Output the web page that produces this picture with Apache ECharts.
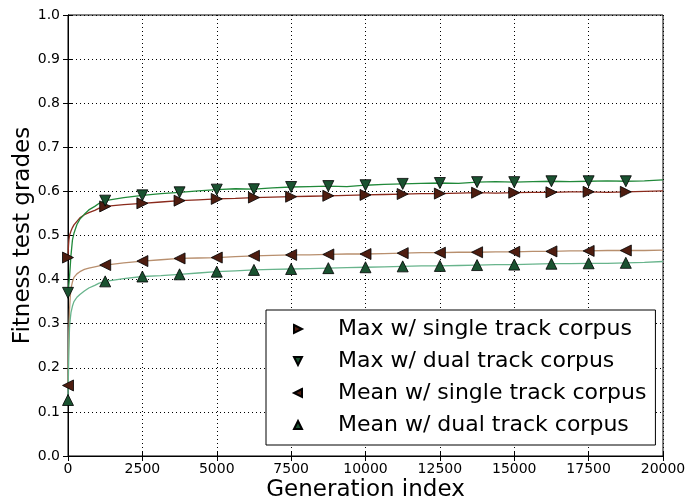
<!DOCTYPE html>
<html>
<head>
<meta charset="utf-8">
<script src="https://cdn.jsdelivr.net/npm/echarts@6/dist/echarts.min.js"></script>
<style>html,body{margin:0;padding:0;background:#fff}#c{width:689px;height:504px}</style>
</head>
<body>
<div id="c"></div>
<script>
const gens = [0, 15, 30, 50, 75, 100, 150, 200, 300, 400, 550, 700, 900, 1050, 1250, 1875, 2500, 3125, 3750, 4375, 5000, 5625, 6250, 6875, 7500, 8125, 8750, 9375, 10000, 10625, 11250, 11875, 12500, 13125, 13750, 14375, 15000, 15625, 16250, 16875, 17500, 18125, 18750, 19375, 20000];
const maxSingle = [0.45,0.475,0.49,0.50,0.505, 0.51,0.518,0.524,0.532,0.540, 0.547,0.552,0.557,0.562,0.566, 0.570,0.573,0.576,0.579,0.581, 0.583,0.584,0.586,0.587,0.588, 0.589,0.590,0.591,0.592,0.593, 0.594,0.595,0.595,0.596,0.597, 0.596,0.597,0.598,0.598,0.599, 0.599,0.598,0.599,0.600,0.601];
const maxDual = [0.37,0.38,0.39,0.405,0.43, 0.455,0.49,0.505,0.525,0.537, 0.548,0.558,0.566,0.573,0.579, 0.586,0.591,0.595,0.598,0.601, 0.604,0.606,0.605,0.608,0.610, 0.611,0.612,0.611,0.614,0.616, 0.617,0.618,0.619,0.618,0.621, 0.622,0.621,0.622,0.623,0.622, 0.623,0.624,0.623,0.624,0.626];
const meanSingle = [0.16,0.24,0.29,0.33,0.36, 0.38,0.395,0.405,0.413,0.418, 0.423,0.426,0.429,0.431,0.433, 0.438,0.442,0.445,0.448,0.449, 0.450,0.452,0.454,0.455,0.456, 0.456,0.457,0.458,0.458,0.459, 0.460,0.461,0.461,0.462,0.462, 0.463,0.463,0.464,0.464,0.465, 0.465,0.466,0.466,0.466,0.467];
const meanDual = [0.127,0.19,0.24,0.29,0.31, 0.325,0.34,0.35,0.36,0.366, 0.374,0.381,0.387,0.392,0.396, 0.402,0.407,0.409,0.412,0.415, 0.418,0.420,0.422,0.423,0.424, 0.425,0.426,0.427,0.428,0.429, 0.430,0.431,0.431,0.432,0.433, 0.434,0.434,0.435,0.436,0.436, 0.437,0.437,0.438,0.439,0.441];
const markerStep = 1250;
const seriesNames = ['Max w/ single track corpus', 'Max w/ dual track corpus', 'Mean w/ single track corpus', 'Mean w/ dual track corpus'];

const RIGHT = 'path://M0,0 L10,5 L0,10 Z';
const DOWN = 'path://M0,0 L10,0 L5,10 Z';
const LEFT = 'path://M10,0 L0,5 L10,10 Z';
const UP = 'path://M5,0 L10,10 L0,10 Z';

const defs = [
  {name: seriesNames[0], vals: maxSingle, line: '#8a2a1c', mk: '#4e1d10', sym: RIGHT},
  {name: seriesNames[1], vals: maxDual, line: '#21893a', mk: '#1a5230', sym: DOWN},
  {name: seriesNames[2], vals: meanSingle, line: '#b88f6e', mk: '#4e1d10', sym: LEFT},
  {name: seriesNames[3], vals: meanDual, line: '#68b48c', mk: '#1a5230', sym: UP}
];

const series = [];
defs.forEach(d => {
  series.push({
    type: 'line', name: d.name + ' line', data: gens.map((g, i) => [g, d.vals[i]]),
    showSymbol: false, symbol: 'none', lineStyle: {color: d.line, width: 1.3}, itemStyle: {color: d.line},
    silent: true, z: 2
  });
});
defs.forEach(d => {
  series.push({
    type: 'scatter', name: d.name,
    data: gens.map((g, i) => [g, d.vals[i]]).filter(p => p[0] % markerStep === 0 && p[0] < 20000),
    symbol: d.sym, symbolSize: 11, symbolKeepAspect: true,
    itemStyle: {color: d.mk, borderColor: '#000', borderWidth: 0.8, opacity: 1}, z: 3
  });
});

const font = 'DejaVu Sans';
const chart = echarts.init(document.getElementById('c'), null, {renderer: 'canvas'});
chart.setOption({
  animation: false,
  backgroundColor: '#fff',
  grid: {left: 68, top: 15, right: 26, bottom: 48, containLabel: false, outerBoundsMode: 'none',
         show: true, borderColor: '#000', borderWidth: 1, backgroundColor: 'transparent'},
  xAxis: [{
    type: 'value', min: 0, max: 20000, interval: 2500, position: 'bottom',
    name: 'Generation index', nameLocation: 'middle', nameGap: 23, nameMoveOverlap: false,
    nameTextStyle: {fontFamily: font, fontSize: 23, color: '#000', verticalAlign: 'top'},
    axisLine: {lineStyle: {color: '#000'}},
    axisTick: {inside: true, length: 5, lineStyle: {color: '#000'}},
    axisLabel: {fontFamily: font, fontSize: 14, color: '#000', margin: 6, formatter: v => String(v), hideOverlap: false},
    splitLine: {show: true, lineStyle: {color: '#000', type: [1, 3], width: 1}}
  }, {
    type: 'value', min: 0, max: 20000, interval: 2500, position: 'top',
    axisLine: {lineStyle: {color: '#000'}},
    axisTick: {inside: true, length: 5, lineStyle: {color: '#000'}},
    axisLabel: {show: false}, splitLine: {show: false}
  }],
  yAxis: [{
    type: 'value', min: 0, max: 1, interval: 0.1, position: 'left',
    name: 'Fitness test grades', nameLocation: 'middle', nameGap: 33, nameMoveOverlap: false,
    nameTextStyle: {fontFamily: font, fontSize: 23, color: '#000'},
    axisLine: {show: true, lineStyle: {color: '#000'}},
    axisTick: {show: true, inside: true, length: 5, lineStyle: {color: '#000'}},
    axisLabel: {fontFamily: font, fontSize: 14, color: '#000', margin: 8, formatter: v => v.toFixed(1)},
    splitLine: {show: true, lineStyle: {color: '#000', type: [1, 3], width: 1}}
  }, {
    type: 'value', min: 0, max: 1, interval: 0.1, position: 'right',
    axisLine: {show: true, lineStyle: {color: '#000'}},
    axisTick: {show: true, inside: true, length: 5, lineStyle: {color: '#000'}},
    axisLabel: {show: false}, splitLine: {show: false}
  }],
  legend: {
    orient: 'vertical', left: 266, top: 310,
    data: defs.map(d => ({name: d.name, icon: d.sym})),
    itemWidth: 8, itemHeight: 8, itemGap: 8,
    padding: [7, 9, 8, 27],
    backgroundColor: '#fff', borderColor: '#000', borderWidth: 1, borderRadius: 0,
    textStyle: {fontFamily: font, fontSize: 22, color: '#000', lineHeight: 24, padding: [0, 0, 0, 31]},
    selectedMode: false
  },
  series: series
});
</script>
</body>
</html>
